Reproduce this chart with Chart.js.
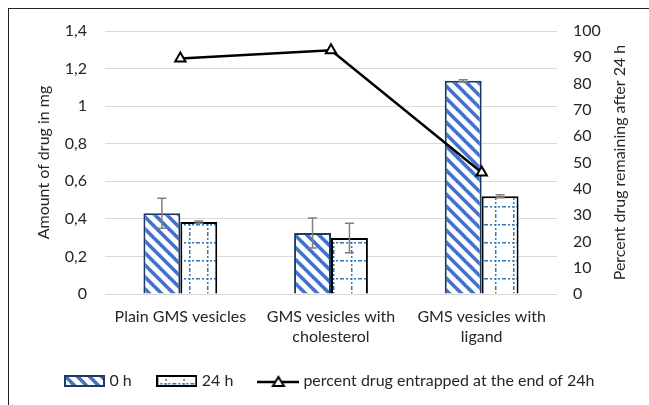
<!DOCTYPE html>
<html>
<head>
<meta charset="utf-8">
<script src="https://cdn.jsdelivr.net/npm/chart.js@4.4.1/dist/chart.umd.min.js"></script>
<style>
  body { margin: 0; background: #fff; }
  #wrap { position: relative; width: 649px; height: 405px; overflow: hidden; }
  #frame { position: absolute; left: 8px; top: 8px; width: 700px; height: 450px; border-left: 1.5px solid #222; border-top: 1.5px solid #222; }
  canvas { position: absolute; left: 0; top: 0; }
</style>
</head>
<body>
<div id="wrap">
  <div id="frame"></div>
  <canvas id="chart" width="649" height="405"></canvas>
</div>
<script>
// chart values
const categories = ['Plain GMS vesicles', ['GMS vesicles with', 'cholesterol'], ['GMS vesicles with', 'ligand']];
const drug0h = [0.43, 0.325, 1.135];
const err0h = [0.08, 0.08, 0.005];
const drug24h = [0.383, 0.298, 0.52];
const err24h = [0.006, 0.078, 0.008];
const percentRemaining = [89.5, 92.7, 46.2];
const leftTicks = ['0', '0,2', '0,4', '0,6', '0,8', '1', '1,2', '1,4'];
const rightTicks = ['0', '10', '20', '30', '40', '50', '60', '70', '80', '90', '100'];
const rightTitle = 'Percent drug remaining after 24 h';

const FONT = 'Lato';
const TEXT = '#262626';
const stripeBlue = '#4472C4';
const navy = '#203864';
const dotBlue = '#2E75B6';

// diagonal stripe fill for the 0 h bars
function stripePattern() {
    var c = document.createElement('canvas');
    c.width = 12; c.height = 12;
    var g = c.getContext('2d');
    g.fillStyle = '#fff';
    g.fillRect(0, 0, 12, 12);
    g.strokeStyle = stripeBlue;
    g.lineWidth = 3.6;
    for (var k = -1; k <= 1; k++) {
        g.beginPath();
        g.moveTo(k * 12 - 3, -3);
        g.lineTo(k * 12 + 15, 15);
        g.stroke();
    }
    return g.createPattern(c, 'repeat');
}

// dotted grid fill for the 24 h bars
function dotGridPattern() {
    var c = document.createElement('canvas');
    c.width = 18; c.height = 18;
    var g = c.getContext('2d');
    g.fillStyle = '#fff';
    g.fillRect(0, 0, 18, 18);
    g.fillStyle = dotBlue;
    for (var i = 0; i < 18; i += 4) {
        g.fillRect(i, 8, 2, 1.5);
        g.fillRect(9, i, 1.5, 2);
    }
    return g.createPattern(c, 'repeat');
}

const stripes = stripePattern();
const dotGrid = dotGridPattern();

// small images used as legend markers
function legendBox(fill, border) {
    var c = document.createElement('canvas');
    c.width = 41; c.height = 12;
    var g = c.getContext('2d');
    g.fillStyle = fill;
    g.fillRect(0, 0, 41, 12);
    g.strokeStyle = border;
    g.lineWidth = 2;
    g.strokeRect(1, 1, 39, 10);
    return c;
}

function legendLine() {
    var c = document.createElement('canvas');
    c.width = 42; c.height = 14;
    var g = c.getContext('2d');
    g.strokeStyle = '#000';
    g.lineWidth = 2.5;
    g.beginPath();
    g.moveTo(0, 8); g.lineTo(42, 8);
    g.stroke();
    g.fillStyle = '#fff';
    g.lineWidth = 2;
    g.beginPath();
    g.moveTo(21, 3); g.lineTo(26.5, 12); g.lineTo(15.5, 12); g.closePath();
    g.fill(); g.stroke();
    return c;
}

const errorBars = {
    id: 'errorBars',
    afterDatasetsDraw(chart) {
        var ctx = chart.ctx;
        var y = chart.scales.y;
        ctx.save();
        ctx.strokeStyle = '#808080';
        ctx.lineWidth = 1.5;
        chart.data.datasets.forEach(function (ds, di) {
            if (!ds.errors) return;
            chart.getDatasetMeta(di).data.forEach(function (bar, i) {
                var top = y.getPixelForValue(ds.data[i] + ds.errors[i]);
                var bot = y.getPixelForValue(ds.data[i] - ds.errors[i]);
                ctx.beginPath();
                ctx.moveTo(bar.x, top); ctx.lineTo(bar.x, bot);
                ctx.moveTo(bar.x - 4.5, top); ctx.lineTo(bar.x + 4.5, top);
                ctx.moveTo(bar.x - 4.5, bot); ctx.lineTo(bar.x + 4.5, bot);
                ctx.stroke();
            });
        });
        ctx.restore();
    }
};

// right axis title reads bottom-to-top like the left one
const rightAxisTitle = {
    id: 'rightAxisTitle',
    afterDraw(chart) {
        var ctx = chart.ctx;
        var s = chart.scales.y1;
        ctx.save();
        ctx.translate(s.right - 12, (chart.chartArea.top + chart.chartArea.bottom) / 2);
        ctx.rotate(-Math.PI / 2);
        ctx.font = '16px ' + FONT;
        ctx.fillStyle = TEXT;
        ctx.textAlign = 'center';
        ctx.textBaseline = 'middle';
        ctx.fillText(rightTitle, 0, 0);
        ctx.restore();
    }
};

Chart.defaults.font.family = FONT;
Chart.defaults.font.size = 16;
Chart.defaults.color = TEXT;

const ctx = document.getElementById('chart').getContext('2d');
new Chart(ctx, {
    data: {
        labels: categories,
        datasets: [{
            type: 'line',
            label: 'percent drug entrapped at the end of 24h',
            data: percentRemaining,
            yAxisID: 'y1',
            borderColor: '#000',
            borderWidth: 2.5,
            pointStyle: 'triangle',
            pointRadius: 6,
            pointBackgroundColor: '#fff',
            pointBorderColor: '#000',
            pointBorderWidth: 2,
            order: 0
        }, {
            type: 'bar',
            label: '0 h',
            data: drug0h,
            errors: err0h,
            yAxisID: 'y',
            backgroundColor: stripes,
            borderColor: navy,
            borderWidth: 2,
            order: 1
        }, {
            type: 'bar',
            label: '24 h',
            data: drug24h,
            errors: err24h,
            yAxisID: 'y',
            backgroundColor: dotGrid,
            borderColor: '#000',
            borderWidth: 2,
            order: 2
        }]
    },
    options: {
        responsive: false,
        animation: false,
        layout: { padding: { left: 30, right: 17, top: 31, bottom: 6 } },
        datasets: { bar: { barPercentage: 1, categoryPercentage: 0.49 } },
        scales: {
            x: {
                grid: { display: false },
                border: { display: false },
                ticks: { padding: 5, maxRotation: 0, font: { lineHeight: 1.25 } },
                afterFit: function (s) { s.height = 51; }
            },
            y: {
                position: 'left',
                min: 0, max: 1.4,
                ticks: {
                    stepSize: 0.2, padding: 18,
                    callback: function (v, i) { return leftTicks[i]; }
                },
                grid: { color: '#D9D9D9', lineWidth: 1, drawTicks: false },
                border: { display: false },
                title: { display: true, text: 'Amount of drug in mg', font: { size: 16 } },
                afterFit: function (s) { s.width = 75; }
            },
            y1: {
                position: 'right',
                min: 0, max: 100,
                ticks: {
                    stepSize: 10, padding: 16,
                    callback: function (v, i) { return rightTicks[i]; }
                },
                grid: { display: false, drawTicks: false },
                border: { display: false },
                afterFit: function (s) { s.width = 75; }
            }
        },
        plugins: {
            tooltip: { enabled: false },
            legend: {
                position: 'bottom',
                labels: {
                    usePointStyle: true,
                    pointStyleWidth: 34,
                    boxHeight: 12,
                    padding: 28,
                    generateLabels: function () {
                        return [
                            { text: '0 h', pointStyle: legendBox(stripes, navy), datasetIndex: 1, fontColor: TEXT, lineWidth: 0 },
                            { text: '24 h', pointStyle: legendBox(dotGrid, '#000'), datasetIndex: 2, fontColor: TEXT, lineWidth: 0 },
                            { text: 'percent drug entrapped at the end of 24h', pointStyle: legendLine(), datasetIndex: 0, fontColor: TEXT, lineWidth: 0 }
                        ];
                    }
                }
            }
        }
    },
    plugins: [errorBars, rightAxisTitle]
});
</script>
</body>
</html>
